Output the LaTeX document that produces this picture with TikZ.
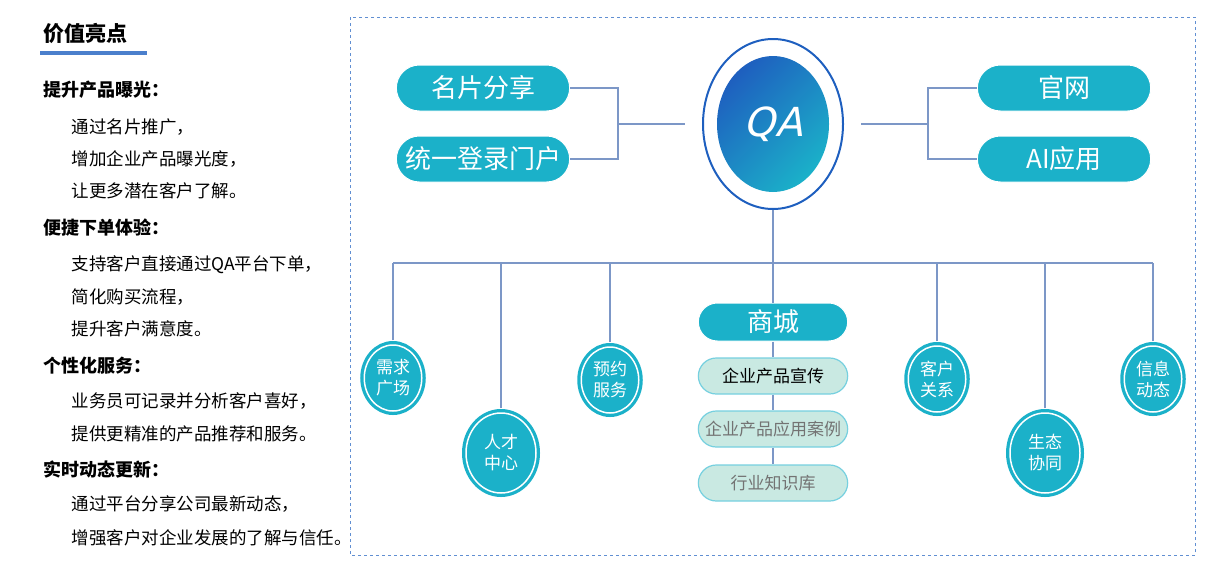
\documentclass[tikz,border=0pt]{standalone}
\usepackage{fontspec}
\setmainfont{Noto Sans CJK SC}
\newfontfamily\qafont{DejaVu Sans}[FakeSlant=0.25]
\usetikzlibrary{shapes.geometric,shapes.misc,positioning,calc}
\definecolor{tealc}{HTML}{1BB1C9}
\definecolor{paleg}{HTML}{C9E9E2}
\definecolor{linec}{HTML}{7C97C7}
\definecolor{qablue}{HTML}{1E5FBF}
\tikzset{
  pill/.style={rounded rectangle,fill=tealc,draw=white,line width=1pt,text=white,
    minimum width=180,minimum height=46,font=\fontsize{26}{28}\selectfont},
  subpill/.style={rounded rectangle,fill=paleg,draw=tealc!60,line width=1.2pt,
    minimum width=156,minimum height=36,font=\fontsize{17}{20}\selectfont},
  ball/.style={ellipse,preaction={draw=tealc,line width=8pt},fill=tealc,draw=white,
    line width=1.5pt,text=white,align=center,font=\fontsize{17}{21}\selectfont},
  small/.style={ball,minimum width=56,minimum height=66},
  big/.style={ball,minimum width=70,minimum height=80},
  link/.style={draw=linec,line width=1.2pt},
  head/.style={anchor=west,font=\bfseries\fontsize{18}{20}\selectfont},
  body/.style={anchor=west,font=\fontsize{17.5}{20}\selectfont}
}
\begin{document}
\begin{tikzpicture}[x=1pt,y=-1pt]
\useasboundingbox (0,0) rectangle (1206,571);

% left column
\node[anchor=west,font=\bfseries\fontsize{21}{24}\selectfont] (title) at (40,33) {价值亮点};
\fill[qablue!80] (40,51) rectangle (147,55);
\node[head] (h1) at (40,90) {提升产品曝光：};
\node[body] at (68,127) {通过名片推广，};
\node[body] at (68,159) {增加企业产品曝光度，};
\node[body] at (68,191) {让更多潜在客户了解。};
\node[head] (h2) at (40,228) {便捷下单体验：};
\node[body] at (68,265) {支持客户直接通过QA平台下单，};
\node[body] at (68,297) {简化购买流程，};
\node[body] at (68,329) {提升客户满意度。};
\node[head] (h3) at (40,366) {个性化服务：};
\node[body] at (68,401) {业务员可记录并分析客户喜好，};
\node[body] at (68,434) {提供更精准的产品推荐和服务。};
\node[head] (h4) at (40,470) {实时动态更新：};
\node[body] at (68,504) {通过平台分享公司最新动态，};
\node[body] at (68,538) {增强客户对企业发展的了解与信任。};

% frame
\draw[qablue!70,dashed,line width=0.8pt] (350,17) rectangle (1195,555);

% centre
\node[ellipse,draw=qablue,line width=2pt,minimum width=140,minimum height=170] (ring) at (773,124) {};
\node[ellipse,shading=axis,left color=qablue,right color=tealc,shading angle=45,
  minimum width=112,minimum height=136,text=white,font=\qafont\fontsize{40}{44}\selectfont] (qa) at (773,124) {QA};

% top pills
\node[pill] (card) at (483,88) {名片分享};
\node[pill] (login) at (483,159) {统一登录门户};
\node[pill] (web) at (1064,88) {官网};
\node[pill] (ai) at (1064,159) {\textit{AI}应用};

\coordinate (lj) at (618,124);
\coordinate (rj) at (928,124);
\draw[link] (card.east) -| (lj) |- (login.east);
\draw[link] (lj) -- ($(ring.west)+(-17,0)$);
\draw[link] (web.west) -| (rj) |- (ai.west);
\draw[link] (rj) -- ($(ring.east)+(17,0)$);

% bus
\coordinate (bus) at (773,263);
\draw[link] (ring.south) -- (bus);
\draw[link] (393,263) -- (1153,263);

% mall column
\node[subpill] (s1) at (773,376) {企业产品宣传};
\node[subpill,text=black!55] (s2) at (773,429) {企业产品应用案例};
\node[subpill,text=black!55] (s3) at (773,483) {行业知识库};
\node[pill,minimum width=156,minimum height=38] (mall) at (773,322) {商城};
\draw[link] (bus) -- (mall.north);
\draw[link] (mall.south) -- (s1.north);
\draw[link] (s1.south) -- (s2.north);
\draw[link] (s2.south) -- (s3.north);

% balls
\node[small] (b1) at (393,378) {需求\\广场};
\node[big] (b2) at (501,453) {人才\\中心};
\node[small] (b3) at (610,380) {预约\\服务};
\node[small] (b4) at (937,379) {客户\\关系};
\node[big] (b5) at (1045,453) {生态\\协同};
\node[small] (b6) at (1153,379) {信息\\动态};
\foreach \b in {b1,b2,b3,b4,b5,b6}
  \draw[link] (\b.north) ++(0,-4) -- (\b.north |- bus);

\end{tikzpicture}
\end{document}
